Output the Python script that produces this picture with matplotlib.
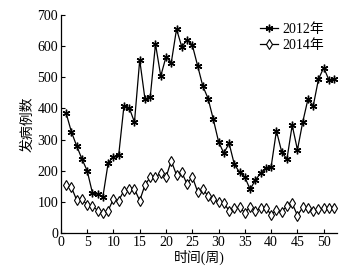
import matplotlib
matplotlib.use("Agg")
import matplotlib.pyplot as plt

weeks = list(range(1, 53))
cases_2012 = [385, 325, 280, 238, 200, 129, 125, 117, 225, 245, 250, 408, 402, 356,
              556, 430, 437, 607, 504, 566, 547, 655, 598, 620, 604, 538, 472, 432,
              365, 293, 256, 288, 220, 195, 179, 140, 170, 192, 210, 213, 328, 261,
              237, 346, 267, 356, 430, 408, 494, 531, 491, 494]
cases_2014 = [154, 147, 106, 109, 90, 87, 72, 65, 72, 109, 104, 136, 141, 141,
              104, 154, 179, 179, 192, 179, 232, 186, 195, 157, 181, 133, 140, 119,
              109, 98, 95, 72, 79, 82, 65, 84, 71, 79, 81, 58, 74, 68, 87, 95, 56,
              82, 79, 71, 76, 79, 79, 81]
labels = ["2012年", "2014年"]
xlabel = "时间(周)"
ylabel = "发病例数"

plt.rcParams['font.family'] = ['Liberation Serif', 'Noto Sans CJK SC']
plt.rcParams['font.size'] = 10

fig = plt.figure(figsize=(3.58, 2.75), dpi=100)
ax = fig.add_axes([0.170, 0.153, 0.771, 0.792])

ax.plot(weeks, cases_2012, color='black', lw=0.9, marker=(6, 2, 0), ms=5.5,
        mew=1.0, mec='black', label=labels[0])
ax.plot(weeks, cases_2014, color='black', lw=0.9, marker='d', ms=5.5,
        mfc='white', mec='black', mew=0.8, label=labels[1])

ax.set_xlim(0, 52.5)
ax.set_ylim(0, 700)
ax.set_xticks(range(0, 51, 5))
ax.set_yticks(range(0, 701, 100))
ax.tick_params(direction='in', length=3, width=0.8, pad=2, labelsize=10)
for s in ['top', 'right']:
    ax.spines[s].set_visible(False)
for s in ['left', 'bottom']:
    ax.spines[s].set_linewidth(0.9)

ax.set_xlabel(xlabel, fontsize=10, labelpad=1)
ax.set_ylabel(ylabel, fontsize=10, labelpad=2)

ax.legend(loc='upper right', bbox_to_anchor=(1.0, 1.02), frameon=False,
          handlelength=1.3, handletextpad=0.3, labelspacing=0.2, fontsize=10)

fig.savefig('out.png', dpi=100)
